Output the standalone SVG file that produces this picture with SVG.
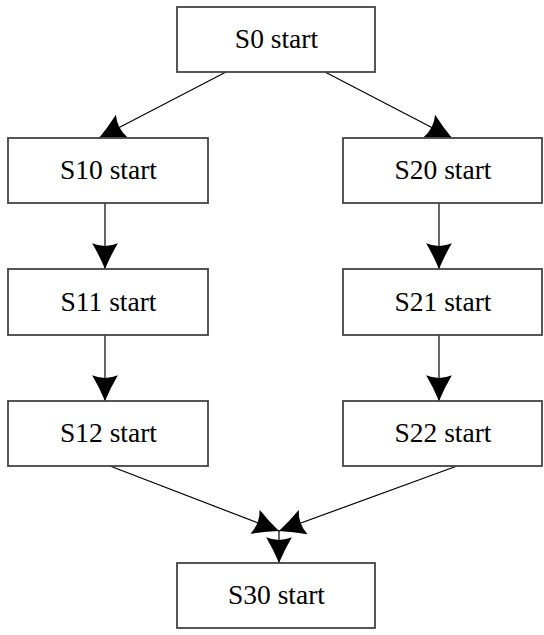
<svg xmlns="http://www.w3.org/2000/svg" width="544" height="635" viewBox="0 0 544 635">
<style>
.box{fill:#fff;stroke:#444;stroke-width:1.8}
.lbl{font-family:"Liberation Serif","Times New Roman",serif;font-size:27.5px;fill:#000;text-anchor:middle}
.edge{fill:none;stroke:#000;stroke-width:1.2}
</style>
<defs>
<marker id="ah" markerUnits="userSpaceOnUse" markerWidth="30" markerHeight="30" viewBox="-26 -14 28 28" refX="0" refY="0" orient="auto">
<path d="M0,0 Q-12,-5 -24,-12 Q-19,0 -24,12 Q-12,5 0,0 Z" fill="#000"/>
</marker>
</defs>
<rect width="544" height="635" fill="#fff"/>
<g id="edges">
<line class="edge" x1="226" y1="72" x2="99" y2="138" marker-end="url(#ah)"/>
<line class="edge" x1="325" y1="72" x2="452" y2="138" marker-end="url(#ah)"/>
<line class="edge" x1="105" y1="203" x2="105" y2="269" marker-end="url(#ah)"/>
<line class="edge" x1="439" y1="203" x2="439" y2="269" marker-end="url(#ah)"/>
<line class="edge" x1="105" y1="335" x2="105" y2="401" marker-end="url(#ah)"/>
<line class="edge" x1="439" y1="335" x2="439" y2="401" marker-end="url(#ah)"/>
<line class="edge" x1="110" y1="466" x2="279" y2="531" marker-end="url(#ah)"/>
<line class="edge" x1="457" y1="466" x2="279" y2="531" marker-end="url(#ah)"/>
<line class="edge" x1="279" y1="531" x2="279" y2="563" marker-end="url(#ah)"/>
</g>
<g id="S0"><rect class="box" x="177" y="7" width="198" height="65"/><text class="lbl" x="276.5" y="48">S0 start</text></g>
<g id="S10"><rect class="box" x="8" y="138" width="200" height="65"/><text class="lbl" x="108.5" y="179">S10 start</text></g>
<g id="S20"><rect class="box" x="343" y="138" width="199" height="65"/><text class="lbl" x="443" y="179">S20 start</text></g>
<g id="S11"><rect class="box" x="8" y="269" width="200" height="66"/><text class="lbl" x="108.5" y="311">S11 start</text></g>
<g id="S21"><rect class="box" x="343" y="269" width="199" height="66"/><text class="lbl" x="443" y="311">S21 start</text></g>
<g id="S12"><rect class="box" x="8" y="401" width="200" height="65"/><text class="lbl" x="108.5" y="442">S12 start</text></g>
<g id="S22"><rect class="box" x="343" y="401" width="199" height="65"/><text class="lbl" x="443" y="442">S22 start</text></g>
<g id="S30"><rect class="box" x="177" y="563" width="198" height="65"/><text class="lbl" x="276.5" y="604">S30 start</text></g>
</svg>
